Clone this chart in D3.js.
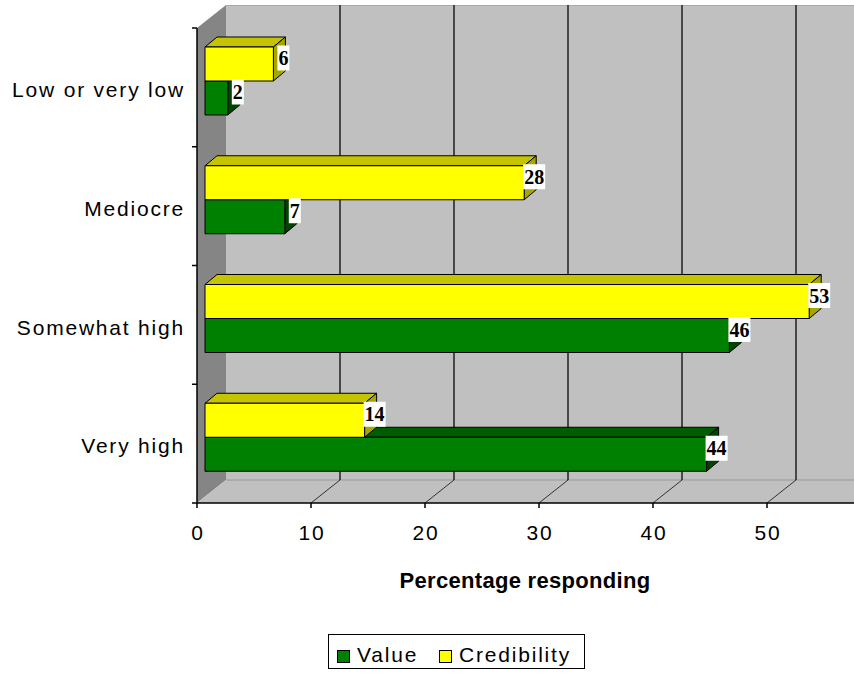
<!DOCTYPE html>
<html>
<head>
<meta charset="utf-8">
<script src="https://cdn.jsdelivr.net/npm/d3@7/dist/d3.min.js"></script>
<style>
  html, body { margin: 0; padding: 0; background: #fff; }
  svg { display: block; }
  .lbl { font-family: "Liberation Sans", Arial, sans-serif; font-size: 21px; letter-spacing: 1.8px; fill: #000; }
</style>
</head>
<body>
<svg id="chart" width="854" height="676"></svg>
<script>
// Survey results: rating of value and credibility
const categories = ["Low or very low", "Mediocre", "Somewhat high", "Very high"];
const valueSeries = [2, 7, 46, 44];
const credibilitySeries = [6, 28, 53, 14];
const xTicks = [0, 10, 20, 30, 40, 50];
const seriesNames = ["Value", "Credibility"];

const W = 854;
const svg = d3.select("#chart");

// Front plane of the 3-D box
const x = d3.scaleLinear().domain([0, 60]).range([197, 881]);
const y = d3.scaleBand().domain(categories).range([28, 503]).paddingInner(0).paddingOuter(0);
const depth = { dx: 29, dy: -23 };     // front plane -> back wall
const barOff = { dx: 8, dy: 0 };       // where bar fronts sit inside the box
const barDepth = { dx: 12, dy: -10 };  // thickness of each bar
const barH = 34;

const x0 = x(0), yTop = y.range()[0], yBot = y.range()[1];

const colors = {
  Value: { front: "#008000", top: "#005c00", side: "#004400" },
  Credibility: { front: "#ffff00", top: "#c4c400", side: "#a6a600" }
};

// Back wall
svg.append("rect")
  .attr("x", x0 + depth.dx).attr("y", yTop + depth.dy)
  .attr("width", W - (x0 + depth.dx)).attr("height", yBot - yTop)
  .attr("fill", "#c0c0c0");
svg.append("line")
  .attr("x1", x0 + depth.dx).attr("x2", W)
  .attr("y1", yTop + depth.dy + 0.5).attr("y2", yTop + depth.dy + 0.5)
  .attr("stroke", "#a8a8a8").attr("stroke-width", 1);

// Left wall
svg.append("polygon")
  .attr("points", [
    [x0, yTop], [x0 + depth.dx, yTop + depth.dy],
    [x0 + depth.dx, yBot + depth.dy], [x0, yBot]
  ].map(p => p.join(",")).join(" "))
  .attr("fill", "#858585");

// Floor
svg.append("polygon")
  .attr("points", [
    [x0, yBot], [x0 + depth.dx, yBot + depth.dy],
    [W, yBot + depth.dy], [W, yBot]
  ].map(p => p.join(",")).join(" "))
  .attr("fill", "#c0c0c0");
svg.append("line")
  .attr("x1", x0 + depth.dx).attr("x2", W)
  .attr("y1", yBot + depth.dy).attr("y2", yBot + depth.dy)
  .attr("stroke", "#989898").attr("stroke-width", 1);

// Gridlines on the back wall and across the floor
const grid = svg.append("g");
xTicks.filter(t => t > 0).forEach(t => {
  grid.append("line")
    .attr("x1", x(t) + depth.dx).attr("x2", x(t) + depth.dx)
    .attr("y1", yTop + depth.dy).attr("y2", yBot + depth.dy)
    .attr("stroke", "#2a2a2a").attr("stroke-width", 1.6);
  grid.append("line")
    .attr("x1", x(t)).attr("y1", yBot)
    .attr("x2", x(t) + depth.dx).attr("y2", yBot + depth.dy)
    .attr("stroke", "#333").attr("stroke-width", 1);
});

// Bars
const bars = svg.append("g").attr("stroke", "#000").attr("stroke-width", 1).attr("stroke-linejoin", "round");
function drawBar(v, top, c) {
  const xl = x(0) + barOff.dx, xr = x(v) + barOff.dx;
  const yt = top, yb = top + barH;
  const pts = a => a.map(p => p.join(",")).join(" ");
  bars.append("polygon").attr("fill", c.top)
    .attr("points", pts([[xl, yt], [xl + barDepth.dx, yt + barDepth.dy], [xr + barDepth.dx, yt + barDepth.dy], [xr, yt]]));
  bars.append("polygon").attr("fill", c.side)
    .attr("points", pts([[xr, yt], [xr + barDepth.dx, yt + barDepth.dy], [xr + barDepth.dx, yb + barDepth.dy], [xr, yb]]));
  bars.append("rect").attr("fill", c.front)
    .attr("x", xl).attr("y", yt).attr("width", xr - xl).attr("height", barH);
}

const labelData = [];
categories.forEach((cat, i) => {
  const top = y(cat) + 19;
  // Value bar sits below Credibility; draw it first so Credibility overlaps its top face
  drawBar(valueSeries[i], top + barH, colors.Value);
  drawBar(credibilitySeries[i], top, colors.Credibility);
  labelData.push({ v: credibilitySeries[i], cx: x(credibilitySeries[i]) + barOff.dx + 10, cy: top + barH / 2 - 6 });
  labelData.push({ v: valueSeries[i], cx: x(valueSeries[i]) + barOff.dx + 10, cy: top + barH * 1.5 - 6 });
});

// Value labels on white boxes
const labels = svg.append("g");
labelData.forEach(d => {
  const g = labels.append("g");
  const r = g.append("rect").attr("fill", "#fff");
  const t = g.append("text")
    .attr("x", d.cx).attr("y", d.cy + 7)
    .attr("text-anchor", "middle")
    .attr("font-family", "'Liberation Serif', 'Times New Roman', serif")
    .attr("font-weight", "bold").attr("font-size", 20)
    .attr("fill", "#000")
    .text(d.v);
  const bb = t.node().getBBox();
  r.attr("x", bb.x - 1).attr("y", d.cy - 12.5).attr("width", bb.width + 2).attr("height", 25);
});

// Axes
const axes = svg.append("g").attr("stroke", "#000").attr("stroke-width", 1.5);
axes.append("line").attr("x1", x0).attr("x2", x0).attr("y1", yTop).attr("y2", yBot);
axes.append("line").attr("x1", x0).attr("x2", W).attr("y1", yBot).attr("y2", yBot);
const bandEdges = categories.map(c => y(c)).concat([yBot]);
bandEdges.forEach(v => {
  axes.append("line").attr("x1", x0 - 5).attr("x2", x0).attr("y1", v).attr("y2", v);
});
xTicks.forEach(t => {
  axes.append("line").attr("x1", x(t)).attr("x2", x(t)).attr("y1", yBot).attr("y2", yBot + 5);
});

// Tick labels
svg.append("g").selectAll("text").data(xTicks).join("text")
  .attr("class", "lbl")
  .attr("x", d => x(d) + 1).attr("y", 540)
  .attr("text-anchor", "middle")
  .text(d => d);

// Category labels
svg.append("g").selectAll("text").data(categories).join("text")
  .attr("class", "lbl")
  .attr("x", 185).attr("y", d => y(d) + 69)
  .attr("text-anchor", "end")
  .text(d => d);

// Axis title
svg.append("text")
  .attr("x", 525).attr("y", 588)
  .attr("text-anchor", "middle")
  .attr("font-family", "'Liberation Sans', Arial, sans-serif")
  .attr("font-weight", "bold").attr("font-size", 22)
  .attr("letter-spacing", "0.3px")
  .text("Percentage responding");

// Legend
const legend = svg.append("g");
legend.append("rect")
  .attr("x", 328.5).attr("y", 634.5).attr("width", 256).attr("height", 34)
  .attr("fill", "#fff").attr("stroke", "#000").attr("stroke-width", 1);
const legendX = [337, 439];
seriesNames.forEach((name, i) => {
  legend.append("rect")
    .attr("x", legendX[i] + 0.5).attr("y", 650.5).attr("width", 12).attr("height", 12)
    .attr("fill", colors[name].front).attr("stroke", "#000").attr("stroke-width", 1);
  legend.append("text")
    .attr("class", "lbl")
    .attr("x", legendX[i] + 20).attr("y", 662)
    .text(name);
});
</script>
</body>
</html>
